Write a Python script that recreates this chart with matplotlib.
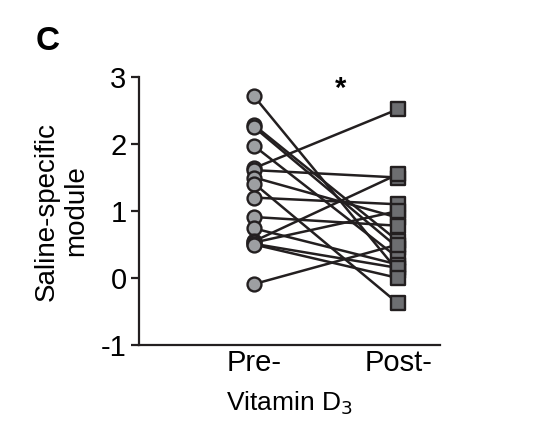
import matplotlib.pyplot as plt

plt.rcParams['font.family'] = ['Liberation Sans', 'DejaVu Sans']

# paired values per subject: pre and post vitamin D3
pre = [2.71, 2.28, 2.25, 1.97, 1.64, 1.61, 1.50, 1.41, 1.20, 0.91, 0.74, 0.55, 0.53, 0.51, 0.50, -0.09]
post = [0.10, 0.55, 0.45, 0.30, 2.52, 1.50, 0.90, -0.38, 1.10, 0.78, 0.20, 1.55, 1.00, 0.15, 0.00, 0.50]
groups = ["Pre-", "Post-"]

fig = plt.figure(figsize=(5.42, 4.36), dpi=100)
ax = fig.add_axes([0.2565, 0.2087, 0.555, 0.6147])

for a, b in zip(pre, post):
    ax.plot([0, 1], [a, b], color="#231f20", lw=1.8, zorder=2)
ax.scatter([0] * len(pre), pre, s=100, marker="o", facecolor="#9d9fa2",
           edgecolor="#231f20", linewidth=1.7, zorder=3)
ax.scatter([1] * len(post), post, s=90, marker="s", facecolor="#6d6e71",
           edgecolor="#231f20", linewidth=1.7, zorder=3)

ax.set_xlim(-0.8, 1.29)
ax.set_ylim(-1, 3)
ax.set_yticks([-1, 0, 1, 2, 3])
ax.set_yticklabels(["-1", "0", "1", "2", "3"])
ax.set_xticks([0, 1])
ax.set_xticklabels(groups)
for s in ["top", "right"]:
    ax.spines[s].set_visible(False)
for s in ["left", "bottom"]:
    ax.spines[s].set_linewidth(1.6)
    ax.spines[s].set_color("#231f20")
ax.tick_params(axis="y", length=6, width=1.6, labelsize=21, color="#231f20", pad=3)
ax.tick_params(axis="x", length=0, labelsize=21, pad=3)

ax.set_ylabel("Saline-specific\nmodule", fontsize=20, labelpad=8)
ax.set_xlabel("Vitamin D$_3$", fontsize=19, labelpad=9)

ax.text(0.6, 2.82, "*", fontsize=21, fontweight="bold", ha="center", va="center")
fig.text(0.065, 0.905, "C", fontsize=24, fontweight="bold", va="center")

fig.savefig("out.png", dpi=100)
